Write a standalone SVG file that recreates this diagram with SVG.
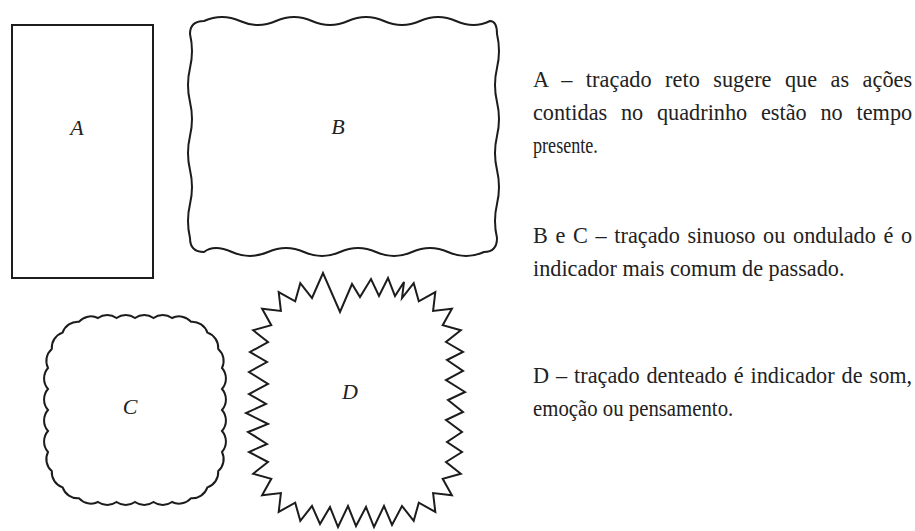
<svg xmlns="http://www.w3.org/2000/svg" width="915" height="531" viewBox="0 0 915 531">
<style>
.panel{fill:#fff;stroke:#1c1c1c;stroke-width:2;stroke-linejoin:miter}
.lbl{font-family:'Liberation Serif','Times New Roman',serif;font-style:italic;font-size:22px;fill:#222;text-anchor:middle}
.txt{font-family:'Liberation Serif','Times New Roman',serif;font-size:24px;fill:#222}
</style>
<rect width="915" height="531" fill="#fff"/>
<g id="panel-a">
<rect class="panel" x="12" y="25" width="141" height="253"/>
<text class="lbl" x="77" y="135">A</text>
</g>
<g id="panel-b">
<path class="panel" d="M190,34 Q190,21 204,21 Q222,13 240,21 T276,21 T312,21 T348,21 T384,21 T420,21 T456,21 T490,21 Q497,21 497,34 Q501,51 497,68 T497,102 T497,136 T497,170 T497,204 T497,238 Q497,252 484,252 Q466,260 448,252 T412,252 T376,252 T340,252 T304,252 T268,252 T232,252 T204,252 Q190,252 190,238 Q186,221 190,204 T190,170 T190,136 T190,102 T190,68 T190,34 Z"/>
<text class="lbl" x="338" y="134">B</text>
</g>
<g id="panel-c">
<path class="panel" d="M98,318 A16 16 0 0 1 116.5,318 A16 16 0 0 1 135,318 A16 16 0 0 1 153.5,318 A16 16 0 0 1 172,318 A16 16 0 0 1 191.1,321.8 A16 16 0 0 1 207.4,332.6 A16 16 0 0 1 218.2,348.9 A16 16 0 0 1 222,368 A16 16 0 0 1 222,389 A16 16 0 0 1 222,410 A16 16 0 0 1 222,431 A16 16 0 0 1 222,452 A16 16 0 0 1 218.2,471.1 A16 16 0 0 1 207.4,487.4 A16 16 0 0 1 191.1,498.2 A16 16 0 0 1 172,502 A16 16 0 0 1 153.5,502 A16 16 0 0 1 135,502 A16 16 0 0 1 116.5,502 A16 16 0 0 1 98,502 A16 16 0 0 1 78.9,498.2 A16 16 0 0 1 62.6,487.4 A16 16 0 0 1 51.8,471.1 A16 16 0 0 1 48,452 A16 16 0 0 1 48,431 A16 16 0 0 1 48,410 A16 16 0 0 1 48,389 A16 16 0 0 1 48,368 A16 16 0 0 1 51.8,348.9 A16 16 0 0 1 62.6,332.6 A16 16 0 0 1 78.9,321.8 A16 16 0 0 1 98,318 Z"/>
<text class="lbl" x="130" y="414">C</text>
</g>
<g id="panel-d">
<polygon class="panel" points="268,342 253.2,330.3 271.3,325.2 262.1,308.7 280.9,310.9 278.7,292.1 295.2,301.3 300.3,283.2 312,298 323,273 340,312 352,284 360,297 371,279 379,296 388,278 395,296 404,282 402,298 413.7,283.2 418.8,301.3 435.3,292.1 433.1,310.9 451.9,308.7 442.7,325.2 460.8,330.3 446,342 463,352 447,360 463,371 446,380 465,392 448,400 463,412 446,420 462,432 447,442 462,452 446,462 460.8,473.7 442.7,478.8 451.9,495.3 433.1,493.1 435.3,511.9 418.8,502.7 413.7,520.8 402,506 392,525 384,506 374,527 366,507 356,526 348,506 338,527 330,507 320,524 312,506 300.3,520.8 295.2,502.7 278.7,511.9 280.9,493.1 262.1,495.3 271.3,478.8 253.2,473.7 268,462 249,452 267,444 248,432 268,424 246,413 266,404 249,394 268,384 249,372 267,362 250,352"/>
<text class="lbl" x="350" y="399">D</text>
</g>
<g id="legend" transform="translate(533,0) scale(0.927,1)">
<text class="txt" x="0" y="87" word-spacing="8.4" textLength="409" lengthAdjust="spacing">A – traçado reto sugere que as ações</text>
<text class="txt" x="0" y="120" word-spacing="8.84" textLength="409" lengthAdjust="spacing">contidas no quadrinho estão no tempo</text>
<text class="txt" x="0" y="153" textLength="70" lengthAdjust="spacingAndGlyphs">presente.</text>
<text class="txt" x="0" y="243" word-spacing="2.24" textLength="409" lengthAdjust="spacing">B e C – traçado sinuoso ou ondulado é o</text>
<text class="txt" x="0" y="276" textLength="336" lengthAdjust="spacingAndGlyphs">indicador mais comum de passado.</text>
<text class="txt" x="0" y="383" word-spacing="1.46" textLength="409" lengthAdjust="spacing">D – traçado denteado é indicador de som,</text>
<text class="txt" x="0" y="416" textLength="216" lengthAdjust="spacingAndGlyphs">emoção ou pensamento.</text>
</g>
</svg>
